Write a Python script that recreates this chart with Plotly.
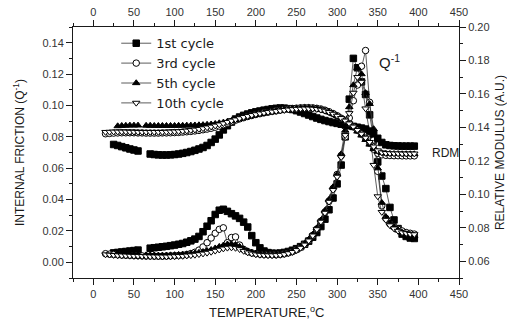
import plotly.graph_objects as go

# Measurement temperatures (°C)
temperature = [15, 20, 25, 30, 35, 40, 45, 50, 55, 60,
               65, 70, 75, 80, 85, 90, 95, 100, 105, 110,
               115, 120, 125, 130, 135, 140, 145, 150, 155, 160,
               165, 170, 175, 180, 185, 190, 195, 200, 205, 210,
               215, 220, 225, 230, 235, 240, 245, 250, 255, 260,
               265, 270, 275, 280, 285, 290, 295, 300, 305, 310,
               315, 320, 325, 330, 335, 340, 345, 350, 355, 360,
               365, 370, 375, 380, 385, 390, 395]

# Internal friction Q^-1 per thermal cycle
q_1st = [None, None, 0.0060, 0.0063, 0.0066, 0.0069, 0.0072, 0.0075, 0.0078, None,
         None, 0.0090, 0.0093, 0.0096, 0.0099, 0.0102, 0.0106, 0.0110, 0.0115, 0.0120,
         0.0128, 0.0137, 0.0148, 0.0165, 0.0195, 0.0230, 0.0265, 0.0305, 0.0332, 0.0338,
         0.0325, 0.0310, 0.0296, 0.0280, 0.0256, 0.0225, 0.0170, 0.0125, 0.0092, 0.0072,
         0.0062, 0.0058, 0.0057, 0.0059, 0.0063, 0.0069, 0.0077, 0.0087, 0.0100, 0.0115,
         0.0135, 0.0160, 0.0190, 0.0228, 0.0275, 0.0335, 0.0410, 0.0500, 0.0620, 0.0800,
         0.1040, 0.1300, 0.1240, 0.1150, 0.1070, 0.0940, 0.0780, 0.0640, 0.0550, 0.0470,
         0.0350, 0.0270, 0.0215, 0.0180, 0.0165, 0.0155, 0.0152]

q_3rd = [0.0055, 0.0052, 0.0050, 0.0048, 0.0046, 0.0045, 0.0044, 0.0043, 0.0042, 0.0041,
         0.0040, 0.0040, 0.0039, 0.0039, 0.0039, 0.0040, 0.0041, 0.0042, 0.0044, 0.0046,
         0.0050, 0.0056, 0.0064, 0.0078, 0.0098, 0.0125, 0.0155, 0.0185, 0.0210, 0.0220,
         0.0125, 0.0158, 0.0162, 0.0110, 0.0082, 0.0068, 0.0060, 0.0055, 0.0052, 0.0050,
         0.0049, 0.0048, 0.0048, 0.0050, 0.0054, 0.0060, 0.0068, 0.0080, 0.0095, 0.0115,
         0.0140, 0.0172, 0.0212, 0.0262, 0.0320, 0.0390, 0.0470, 0.0560, 0.0680, 0.0800,
         0.0920, 0.1030, 0.1130, 0.1250, 0.1350, 0.1020, 0.0780, 0.0580, 0.0360, 0.0280,
         0.0245, 0.0225, 0.0210, 0.0200, 0.0190, 0.0185, 0.0180]

q_5th = [None, None, None, 0.0058, 0.0056, 0.0054, 0.0052, 0.0050, 0.0048, None,
         0.0046, 0.0045, 0.0045, 0.0044, 0.0044, 0.0045, 0.0046, 0.0047, 0.0048, 0.0050,
         0.0052, 0.0055, 0.0058, 0.0062, 0.0067, 0.0073, 0.0080, 0.0090, 0.0100, 0.0108,
         0.0115, 0.0117, 0.0112, 0.0100, 0.0085, 0.0072, 0.0063, 0.0057, 0.0053, 0.0051,
         0.0050, 0.0050, 0.0051, 0.0053, 0.0057, 0.0063, 0.0071, 0.0083, 0.0098, 0.0118,
         0.0145, 0.0178, 0.0218, 0.0268, 0.0330, 0.0400, 0.0480, 0.0560, 0.0690, 0.0840,
         0.0990, 0.1130, 0.1240, 0.1200, 0.1080, 0.1010, 0.0850, 0.0600, 0.0380, 0.0290,
         0.0250, 0.0225, 0.0205, 0.0190, 0.0180, 0.0175, 0.0170]

q_10th = [0.0050, 0.0048, 0.0046, 0.0044, 0.0043, 0.0042, 0.0041, 0.0040, 0.0040, 0.0039,
          0.0038, 0.0037, 0.0037, 0.0036, 0.0036, 0.0036, 0.0037, 0.0038, 0.0039, 0.0040,
          0.0042, 0.0044, 0.0047, 0.0051, 0.0055, 0.0060, 0.0066, 0.0073, 0.0080, 0.0087,
          0.0092, 0.0094, 0.0091, 0.0083, 0.0072, 0.0062, 0.0055, 0.0050, 0.0047, 0.0045,
          0.0044, 0.0044, 0.0045, 0.0047, 0.0051, 0.0057, 0.0065, 0.0077, 0.0092, 0.0112,
          0.0138, 0.0170, 0.0210, 0.0258, 0.0315, 0.0385, 0.0460, 0.0545, 0.0670, 0.0810,
          0.0950, 0.1080, 0.1180, 0.1150, 0.0980, 0.0830, 0.0620, 0.0420, 0.0320, 0.0270,
          0.0235, 0.0215, 0.0200, 0.0190, 0.0185, 0.0180, 0.0178]

# Relative dynamic modulus (A.U.) per thermal cycle
m_1st = [None, None, 0.1298, 0.1292, 0.1285, 0.1278, 0.1271, 0.1265, 0.1259, None,
         None, 0.1241, 0.1238, 0.1236, 0.1235, 0.1235, 0.1236, 0.1238, 0.1241, 0.1245,
         0.1250, 0.1256, 0.1263, 0.1271, 0.1280, 0.1292, 0.1310, 0.1330, 0.1355, 0.1385,
         0.1410, 0.1432, 0.1450, 0.1462, 0.1472, 0.1480, 0.1487, 0.1493, 0.1498, 0.1503,
         0.1507, 0.1511, 0.1514, 0.1516, 0.1515, 0.1512, 0.1507, 0.1500, 0.1492, 0.1483,
         0.1474, 0.1465, 0.1456, 0.1448, 0.1441, 0.1435, 0.1429, 0.1424, 0.1419, 0.1414,
         0.1410, 0.1406, 0.1401, 0.1396, 0.1390, 0.1378, 0.1362, 0.1335, 0.1310, 0.1296,
         0.1292, 0.1290, 0.1289, 0.1288, 0.1288, 0.1288, 0.1288]

m_3rd = [0.1362, 0.1364, 0.1366, 0.1367, 0.1368, 0.1368, 0.1368, 0.1368, 0.1367, 0.1367,
         0.1366, 0.1366, 0.1366, 0.1366, 0.1367, 0.1367, 0.1368, 0.1369, 0.1370, 0.1372,
         0.1374, 0.1376, 0.1379, 0.1382, 0.1386, 0.1390, 0.1395, 0.1401, 0.1408, 0.1416,
         0.1425, 0.1434, 0.1443, 0.1451, 0.1458, 0.1465, 0.1471, 0.1477, 0.1482, 0.1487,
         0.1491, 0.1495, 0.1499, 0.1503, 0.1507, 0.1510, 0.1513, 0.1515, 0.1517, 0.1518,
         0.1518, 0.1517, 0.1514, 0.1510, 0.1503, 0.1494, 0.1483, 0.1470, 0.1455, 0.1440,
         0.1422, 0.1403, 0.1383, 0.1360, 0.1335, 0.1305, 0.1270, 0.1245, 0.1236, 0.1233,
         0.1232, 0.1231, 0.1231, 0.1230, 0.1230, 0.1230, 0.1230]

m_5th = [None, None, None, 0.1408, 0.1410, 0.1411, 0.1412, 0.1412, 0.1412, None,
         0.1411, 0.1411, 0.1410, 0.1410, 0.1410, 0.1410, 0.1410, 0.1410, 0.1411, 0.1411,
         0.1412, 0.1412, 0.1413, 0.1414, 0.1415, 0.1417, 0.1419, 0.1422, 0.1426, 0.1430,
         0.1435, 0.1440, 0.1446, 0.1452, 0.1458, 0.1464, 0.1470, 0.1475, 0.1480, 0.1485,
         0.1490, 0.1494, 0.1498, 0.1502, 0.1506, 0.1509, 0.1512, 0.1514, 0.1516, 0.1517,
         0.1517, 0.1515, 0.1512, 0.1507, 0.1500, 0.1491, 0.1480, 0.1467, 0.1452, 0.1436,
         0.1418, 0.1398, 0.1376, 0.1352, 0.1326, 0.1298, 0.1272, 0.1255, 0.1247, 0.1244,
         0.1243, 0.1242, 0.1242, 0.1241, 0.1241, 0.1241, 0.1241]

m_10th = [0.1372, 0.1373, 0.1374, 0.1374, 0.1374, 0.1374, 0.1373, 0.1373, 0.1372, 0.1372,
          0.1372, 0.1372, 0.1372, 0.1372, 0.1372, 0.1373, 0.1374, 0.1375, 0.1376, 0.1378,
          0.1380, 0.1383, 0.1386, 0.1390, 0.1394, 0.1399, 0.1404, 0.1410, 0.1417, 0.1424,
          0.1432, 0.1440, 0.1447, 0.1454, 0.1461, 0.1467, 0.1473, 0.1478, 0.1483, 0.1487,
          0.1491, 0.1494, 0.1497, 0.1500, 0.1503, 0.1506, 0.1508, 0.1510, 0.1511, 0.1512,
          0.1512, 0.1511, 0.1509, 0.1505, 0.1499, 0.1491, 0.1481, 0.1469, 0.1455, 0.1440,
          0.1423, 0.1404, 0.1384, 0.1362, 0.1338, 0.1312, 0.1285, 0.1262, 0.1250, 0.1246,
          0.1245, 0.1244, 0.1244, 0.1243, 0.1243, 0.1243, 0.1243]

cycle_names = ["1st cycle", "3rd cycle", "5th cycle", "10th cycle"]
q_series = [q_1st, q_3rd, q_5th, q_10th]
m_series = [m_1st, m_3rd, m_5th, m_10th]

# marker symbol and fill per cycle
symbols = ["square", "circle", "triangle-up", "triangle-down"]
fills = ["black", "white", "black", "white"]

FONT = "Arial, Liberation Sans, sans-serif"
INK = "#1a1a1a"

fig = go.Figure()

for name, q, m, sym, fill in zip(cycle_names, q_series, m_series, symbols, fills):
    marker = dict(symbol=sym, size=6.5, color=fill,
                  line=dict(color="black", width=1))
    # modulus: top temperature axis (same scale) / right axis
    fig.add_trace(go.Scatter(
        x=temperature, y=m, name=name, legendgroup=name, showlegend=False,
        mode="lines+markers", line=dict(color="#333333", width=0.8),
        marker=marker, xaxis="x2", yaxis="y2", connectgaps=False))
    # internal friction: bottom temperature axis / left axis
    fig.add_trace(go.Scatter(
        x=temperature, y=q, name=name, legendgroup=name, showlegend=True,
        mode="lines+markers", line=dict(color="#333333", width=0.8),
        marker=marker, xaxis="x", yaxis="y", connectgaps=False))

axis_common = dict(
    showline=True, linecolor=INK, linewidth=1, showgrid=False, zeroline=False,
    ticks="outside", ticklen=6, tickwidth=1, tickcolor=INK, automargin=False,
    tickfont=dict(family=FONT, size=11, color="#333333"),
)

fig.update_layout(
    width=507, height=323,
    margin=dict(l=73, r=48, t=27, b=45, autoexpand=False),
    paper_bgcolor="white", plot_bgcolor="white",
    font=dict(family=FONT, color=INK),
    xaxis=dict(
        range=[-25, 450], tick0=0, dtick=50, anchor="y",
        minor=dict(ticks="outside", dtick=25, ticklen=3, tickcolor=INK),
        **axis_common),
    xaxis2=dict(
        range=[-25, 450], tick0=0, dtick=50, overlaying="x", side="top",
        anchor="y2",
        minor=dict(ticks="outside", dtick=25, ticklen=3, tickcolor=INK),
        **axis_common),
    yaxis=dict(
        range=[-0.01, 0.15], tick0=0, dtick=0.02, tickformat=".2f",
        anchor="x",
        minor=dict(ticks="outside", dtick=0.01, ticklen=3, tickcolor=INK),
        title=dict(text="INTERNAL FRICTION (Q<sup>-1</sup>)",
                   font=dict(size=12, family=FONT)),
        **axis_common),
    yaxis2=dict(
        range=[0.05, 0.20], tick0=0.06, dtick=0.02, tickformat=".2f",
        overlaying="y", side="right", anchor="x2",
        minor=dict(ticks="outside", dtick=0.01, ticklen=3, tickcolor=INK),
        title=dict(text="RELATIVE MODULUS (A.U.)",
                   font=dict(size=12, family=FONT)),
        **axis_common),
    legend=dict(
        x=0.112, y=0.995, xanchor="left", yanchor="top",
        bgcolor="rgba(0,0,0,0)", borderwidth=0,
        font=dict(family="DejaVu Sans, sans-serif", size=13, color=INK),
        tracegroupgap=0, itemwidth=30,
    ),
    showlegend=True,
)

# temperature axis title, set just under the bottom tick labels
fig.add_annotation(x=0.5, y=-0.134, xref="paper", yref="paper",
                   text="TEMPERATURE,<sup>o</sup>C", showarrow=False,
                   xanchor="center", yanchor="middle",
                   font=dict(family=FONT, size=13, color=INK))
fig.add_annotation(x=364, y=0.128, xref="x", yref="y", text="Q<sup>-1</sup>",
                   showarrow=False, font=dict(family=FONT, size=15, color=INK))
fig.add_annotation(x=414, y=0.070, xref="x", yref="y", text="RDM",
                   xanchor="left", showarrow=False,
                   font=dict(family=FONT, size=12, color=INK))

fig.write_html("out.html")
